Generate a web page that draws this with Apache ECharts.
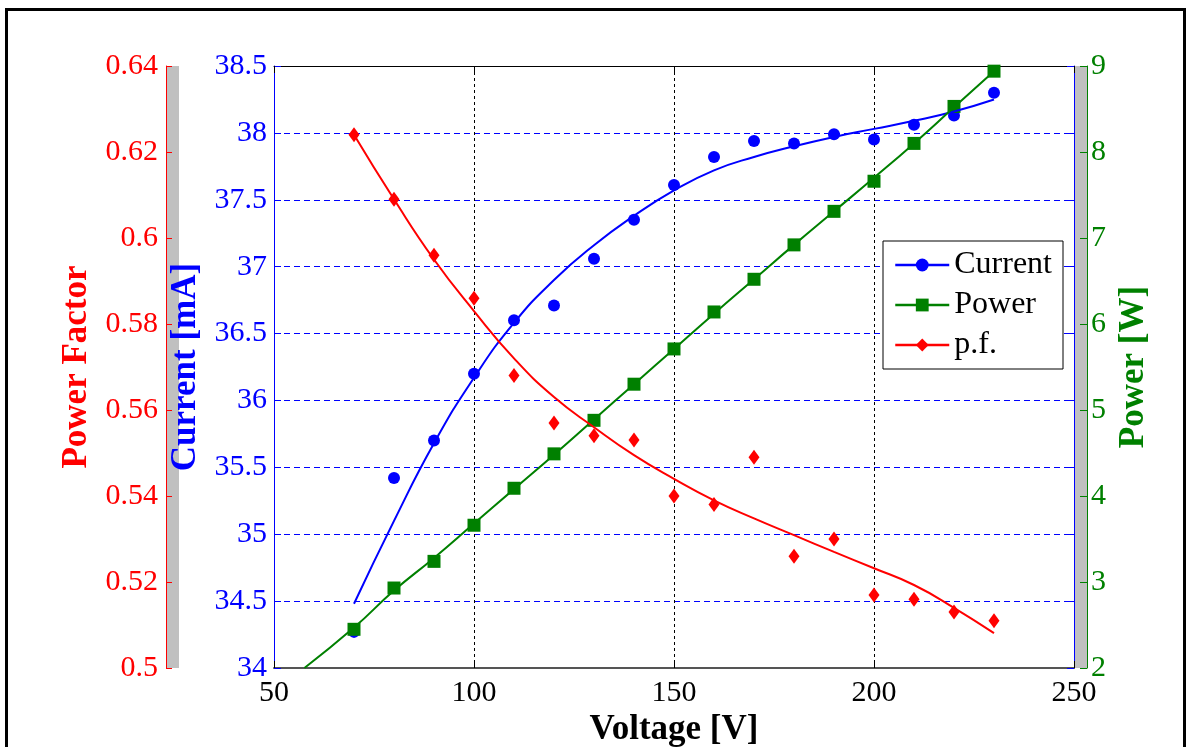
<!DOCTYPE html>
<html>
<head>
<meta charset="utf-8">
<script src="https://cdn.jsdelivr.net/npm/echarts@6/dist/echarts.min.js"></script>
<style>
  html, body { margin: 0; padding: 0; background: #fff; }
  #chart { width: 1187px; height: 747px; }
</style>
</head>
<body>
<div id="chart"></div>
<script>
// measured points (V)
var voltage = [70, 80, 90, 100, 110, 120, 130, 140, 150, 160, 170, 180, 190, 200, 210, 220, 230];
var currentPts = [34.27, 35.42, 35.70, 36.20, 36.60, 36.71, 37.06, 37.35, 37.61, 37.82, 37.94, 37.92, 37.99, 37.95, 38.06, 38.13, 38.30];
var powerPts = [2.45, 2.93, 3.24, 3.66, 4.09, 4.49, 4.88, 5.30, 5.71, 6.14, 6.52, 6.92, 7.31, 7.66, 8.10, 8.53, 8.94];
var pfPts = [0.624, 0.609, 0.596, 0.586, 0.568, 0.557, 0.554, 0.553, 0.540, 0.538, 0.549, 0.526, 0.530, 0.517, 0.516, 0.513, 0.511];

// fitted curves
var currentFit = [34.48, 35.10, 35.68, 36.17, 36.58, 36.90, 37.16, 37.38, 37.57, 37.72, 37.82, 37.90, 37.97, 38.03, 38.09, 38.16, 38.25];
var powerFitVoltage = [57.6, 70, 80, 90, 100, 110, 120, 130, 140, 150, 160, 170, 180, 190, 200, 210, 220, 230];
var powerFit = [2.0, 2.47, 2.90, 3.28, 3.68, 4.08, 4.48, 4.89, 5.30, 5.71, 6.12, 6.52, 6.92, 7.31, 7.70, 8.10, 8.52, 8.94];
var pfFit = [0.624, 0.609, 0.595, 0.583, 0.572, 0.563, 0.556, 0.5495, 0.544, 0.539, 0.5348, 0.5309, 0.527, 0.5232, 0.5193, 0.514, 0.5081];

var legendNames = ['Current', 'Power', 'p.f.'];

function pairs(xs, ys) {
  return xs.map(function (x, i) { return [x, ys[i]]; });
}

var FONT = 'Liberation Serif';
var BLUE = '#0000ff', GREEN = '#008000', RED = '#ff0000';

var chart = echarts.init(document.getElementById('chart'));

var tickFont = { fontFamily: FONT, fontSize: 30 };
var nameFont = function (c) {
  return { fontFamily: FONT, fontSize: 35, fontWeight: 'bold', color: c };
};

var option = {
  animation: false,
  backgroundColor: '#fff',
  graphic: [
    { type: 'rect', shape: { x: 6.5, y: 9.5, width: 1178, height: 800 },
      style: { fill: 'none', stroke: '#000', lineWidth: 3 }, z: 0 },
    { type: 'rect', shape: { x: 167, y: 66, width: 12, height: 602 },
      style: { fill: '#c0c0c0' }, z: 0 },
    { type: 'rect', shape: { x: 1075, y: 66, width: 12, height: 602 },
      style: { fill: '#c0c0c0' }, z: 0 }
  ],
  grid: { left: 274, right: 113, top: 66, bottom: 79, outerBoundsMode: 'none', containLabel: false },
  legend: {
    data: legendNames,
    orient: 'vertical',
    left: 883,
    top: 241,
    padding: [8, 11, 8, 11],
    itemWidth: 54,
    itemHeight: 16,
    itemGap: 8,
    backgroundColor: '#fff',
    borderColor: '#000',
    borderWidth: 1,
    lineStyle: { width: 2.5 },
    textStyle: { fontFamily: FONT, fontSize: 32, color: '#000', lineHeight: 32 }
  },
  xAxis: [
    {
      type: 'value', min: 50, max: 250, interval: 50, position: 'bottom',
      axisLine: { lineStyle: { color: '#555', width: 2 } },
      axisTick: { inside: true, length: 7, lineStyle: { color: '#000' } },
      axisLabel: Object.assign({ color: '#000', margin: 10 }, tickFont),
      splitLine: { show: true, lineStyle: { color: '#000', type: [3, 3], width: 1 } },
      name: 'Voltage [V]', nameLocation: 'middle', nameGap: 40,
      nameTextStyle: nameFont('#000')
    },
    {
      type: 'value', min: 50, max: 250, interval: 50, position: 'top',
      axisLine: { lineStyle: { color: '#000', width: 1 } },
      axisTick: { inside: true, length: 7, lineStyle: { color: '#000' } },
      axisLabel: { show: false },
      splitLine: { show: false }
    }
  ],
  yAxis: [
    {
      type: 'value', min: 34, max: 38.5, interval: 0.5, position: 'left',
      axisLine: { show: true, lineStyle: { color: BLUE, width: 1 } },
      axisTick: { show: true, inside: true, length: 7, lineStyle: { color: BLUE } },
      axisLabel: Object.assign({ color: BLUE, margin: 7 }, tickFont),
      splitLine: { show: true, lineStyle: { color: BLUE, type: [6, 4], width: 1 } },
      name: 'Current [mA]', nameLocation: 'middle', nameGap: 66, nameRotate: 90,
      nameTextStyle: nameFont(BLUE)
    },
    {
      type: 'value', min: 34, max: 38.5, interval: 0.5, position: 'right',
      axisLine: { show: true, lineStyle: { color: BLUE, width: 1 } },
      axisTick: { show: true, inside: true, length: 7, lineStyle: { color: BLUE } },
      axisLabel: { show: false },
      splitLine: { show: false }
    },
    {
      type: 'value', min: 0.5, max: 0.64, interval: 0.02, position: 'left', offset: 108,
      axisLine: { show: true, lineStyle: { color: RED, width: 1 } },
      axisTick: { show: true, inside: true, length: 6, lineStyle: { color: RED } },
      axisLabel: Object.assign({ color: RED, margin: 8 }, tickFont),
      splitLine: { show: false },
      name: 'Power Factor', nameLocation: 'middle', nameGap: 71, nameRotate: 90,
      nameTextStyle: nameFont(RED)
    },
    {
      type: 'value', min: 2, max: 9, interval: 1, position: 'right', offset: 13,
      axisLine: { show: true, lineStyle: { color: GREEN, width: 1 } },
      axisTick: { show: true, inside: true, length: 7, lineStyle: { color: GREEN } },
      axisLabel: Object.assign({ color: GREEN, margin: 4 }, tickFont),
      splitLine: { show: false },
      name: 'Power [W]', nameLocation: 'middle', nameGap: 28, nameRotate: 90,
      nameTextStyle: nameFont(GREEN)
    }
  ],
  series: [
    {
      name: 'Current', type: 'line', yAxisIndex: 0, smooth: true,
      data: pairs(voltage, currentFit),
      symbol: 'circle', symbolSize: 12, showSymbol: false,
      lineStyle: { color: BLUE, width: 2 }, itemStyle: { color: BLUE }
    },
    {
      name: 'Current', type: 'scatter', yAxisIndex: 0,
      data: pairs(voltage, currentPts),
      symbol: 'circle', symbolSize: 12, itemStyle: { color: BLUE, opacity: 1 }
    },
    {
      name: 'Power', type: 'line', yAxisIndex: 3, smooth: true,
      data: pairs(powerFitVoltage, powerFit),
      symbol: 'rect', symbolSize: 13, showSymbol: false,
      lineStyle: { color: GREEN, width: 2 }, itemStyle: { color: GREEN }
    },
    {
      name: 'Power', type: 'scatter', yAxisIndex: 3,
      data: pairs(voltage, powerPts),
      symbol: 'rect', symbolSize: 13, itemStyle: { color: GREEN, opacity: 1 }
    },
    {
      name: 'p.f.', type: 'line', yAxisIndex: 2, smooth: true,
      data: pairs(voltage, pfFit),
      symbol: 'diamond', symbolSize: [11, 15], showSymbol: false,
      lineStyle: { color: RED, width: 2 }, itemStyle: { color: RED }
    },
    {
      name: 'p.f.', type: 'scatter', yAxisIndex: 2,
      data: pairs(voltage, pfPts),
      symbol: 'diamond', symbolSize: [11, 15], itemStyle: { color: RED, opacity: 1 }
    }
  ]
};

chart.setOption(option);
</script>
</body>
</html>
